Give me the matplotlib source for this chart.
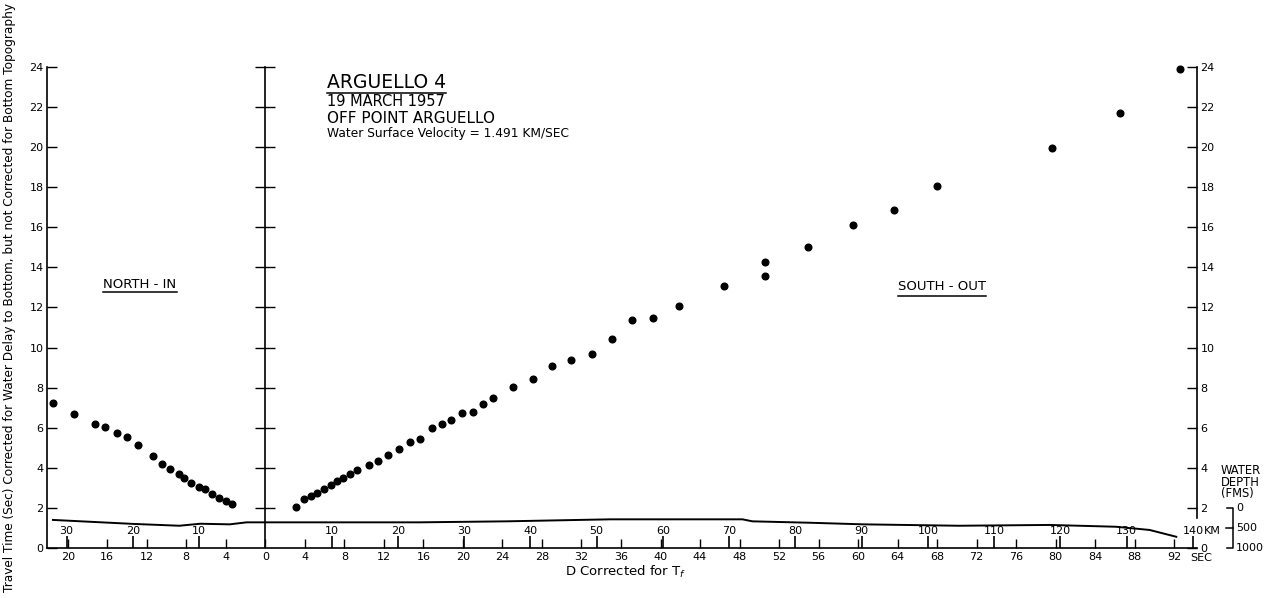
import matplotlib
matplotlib.use('Agg')
import matplotlib.pyplot as plt
import numpy as np
from matplotlib.lines import Line2D

# ---------------- data ----------------
# North-in shots: distance (sec, measured to the left of 0) and travel time (sec)
north_sec = [21.5, 19.4, 17.2, 16.2, 15.0, 14.0, 12.9, 11.4, 10.5, 9.66, 8.78, 8.24,
             7.49, 6.75, 6.07, 5.36, 4.66, 3.99, 3.34]
north_time = [7.22, 6.70, 6.18, 6.05, 5.72, 5.52, 5.15, 4.60, 4.19, 3.96, 3.67, 3.48,
              3.26, 3.06, 2.93, 2.69, 2.51, 2.34, 2.21]

# South-out shots
south_sec = [3.14, 3.91, 4.62, 5.22, 5.93, 6.64, 7.29, 7.85, 8.56, 9.24, 10.46, 11.4,
             12.45, 13.56, 14.6, 15.7, 16.9, 17.9, 18.8, 19.9, 21.0, 22.0, 23.0, 25.06,
             27.05, 29.05, 30.9, 33.06, 35.05, 37.1, 39.2, 41.9, 46.4, 50.6, 50.6, 54.9,
             59.5, 63.6, 68.0, 79.6, 86.5, 92.6]
south_time = [2.03, 2.43, 2.59, 2.73, 2.94, 3.13, 3.33, 3.48, 3.69, 3.89, 4.14, 4.34,
              4.62, 4.95, 5.29, 5.45, 5.97, 6.20, 6.38, 6.72, 6.78, 7.18, 7.47, 8.01,
              8.41, 9.06, 9.38, 9.66, 10.42, 11.37, 11.49, 12.09, 13.07, 13.55, 14.28, 15.01,
              16.12, 16.86, 18.05, 19.97, 21.7, 23.9]

# Bottom profile: position (sec, negative = north) and water depth (fathoms)
profile_sec = [-21.5, -13.3, -8.7, -6.6, -3.6, -1.9, 0, 15.6, 24.4, 34.9, 48.3, 49.3,
               55.1, 60.5, 70.2, 79.4, 86.1, 89.5, 92.2]
profile_depth = [300, 400, 445, 395, 410, 360, 360, 360, 335, 285, 285, 335,
                 370, 410, 445, 425, 470, 550, 720]

time_ticks = list(range(0, 25, 2))
sec_ticks = [-20, -16, -12, -8, -4] + list(range(0, 93, 4))
km_left = [10, 20, 30]
km_right = [10, 20, 30, 40, 50, 60, 70, 80, 90, 100, 110, 120, 130, 140]
depth_ticks = [0, 500, 1000]
velocity = 1.491  # km/sec

title_lines = ["ARGUELLO 4", "19 MARCH 1957", "OFF POINT ARGUELLO",
               "Water Surface Velocity = 1.491 KM/SEC"]
ylabel = ("Travel Time (Sec) Corrected for Water Delay to Bottom, "
          "but not Corrected for Bottom Topography")


def depth_to_t(d):
    return 2 - np.asarray(d, dtype=float) / 500.0


# ---------------- figure ----------------
W, H = 1274, 598
plt.rcParams['font.family'] = ['DejaVu Sans']
fig = plt.figure(figsize=(W / 100, H / 100), dpi=100)
ax = fig.add_axes([47 / W, 50 / H, 1150 / W, 488 / H])
ax.set_xlim(-22.1, 94.3)
ax.set_ylim(0, 24.34)

lw = 1.2
ax.plot(-np.array(north_sec), north_time, 'o', color='black', ms=4.8, clip_on=False)
ax.plot(south_sec, south_time, 'o', color='black', ms=4.8, clip_on=False)
ax.plot(profile_sec, depth_to_t(profile_depth), color='black', lw=1.4)

# spines
ax.spines['top'].set_visible(False)
for s in ['left', 'right', 'bottom']:
    ax.spines[s].set_linewidth(lw)
ax.spines['left'].set_bounds(0, 24)
ax.spines['right'].set_bounds(1.5, 24)

ax.set_yticks(time_ticks)
ax.set_yticklabels([str(t) for t in time_ticks])
ax.tick_params(axis='y', direction='in', length=7.5, width=1, left=True, right=True,
               labelleft=True, labelright=True, labelsize=8, pad=2.5)

ax.set_xticks(sec_ticks)
ax.set_xticklabels([str(abs(s)) for s in sec_ticks])
ax.tick_params(axis='x', direction='in', length=6.3, width=1, labelsize=8, pad=3)
ax.text(93.6, -0.25, 'SEC', ha='left', va='top', fontsize=8, clip_on=False)

# middle axis at zero
mid_ticks = [t for t in time_ticks if t > 0]
ax.plot([0, 0], [0, 24], color='black', lw=lw)
ax.hlines(mid_ticks, -1.0, 1.0, color='black', lw=1)

# km ticks
km_pos = [-k / velocity for k in km_left] + [k / velocity for k in km_right]
km_lab = km_left + km_right
ax.vlines(km_pos, 0, 0.62, color='black', lw=1.2)
for p, k in zip(km_pos, km_lab):
    ax.text(p, 0.62, str(k), ha='center', va='bottom', fontsize=8)
ax.annotate('KM', xy=(140 / velocity, 0.62), xytext=(7.5, 0), textcoords='offset points',
            ha='left', va='bottom', fontsize=8)

# water-depth bracket
xb = 97.9
ax.plot([xb - 0.55, xb, xb, xb - 0.55], depth_to_t([0, 0, 1000, 1000]),
        color='black', lw=1.1, clip_on=False)
ax.plot([xb - 0.7, xb], depth_to_t([500, 500]), color='black', lw=1.1, clip_on=False)
for d in depth_ticks:
    ax.text(xb + 0.35, float(depth_to_t(d)), str(d), ha='left', va='center',
            fontsize=8, clip_on=False)


def ftext(xp, yp, s, **kw):
    return fig.text(xp / W, 1 - yp / H, s, **kw)


ftext(1221, 471, 'WATER', ha='left', va='center', fontsize=8.3)
ftext(1221, 482, 'DEPTH', ha='left', va='center', fontsize=8.3)
ftext(1221, 494, '(FMS)', ha='left', va='center', fontsize=8.3)

# title block
t0 = ftext(327, 83, title_lines[0], ha='left', va='center', fontsize=13.5)
ftext(327, 102, title_lines[1], ha='left', va='center', fontsize=10.5)
ftext(327, 118.5, title_lines[2], ha='left', va='center', fontsize=11)
ftext(327, 134, title_lines[3], ha='left', va='center', fontsize=8.8)

tn = ftext(140, 284, 'NORTH - IN', ha='center', va='center', fontsize=9.5)
tsx = ftext(942, 287, 'SOUTH - OUT', ha='center', va='center', fontsize=9.5)

ftext(626, 572, 'D Corrected for T$_f$', ha='center', va='center', fontsize=9.5)
ftext(10, 297, ylabel, ha='center', va='center', rotation=90, fontsize=8.7)

# underlines at fixed pixel heights, spanning the text width
fig.canvas.draw()
r = fig.canvas.get_renderer()
for t, ypx in [(t0, 92.5), (tn, 292.5), (tsx, 295.5)]:
    bb = t.get_window_extent(r)
    y = 1 - ypx / H
    fig.add_artist(Line2D([bb.x0 / W, bb.x1 / W], [y, y],
                          transform=fig.transFigure, color='black', lw=1.1))

fig.savefig('out.png', dpi=100)
